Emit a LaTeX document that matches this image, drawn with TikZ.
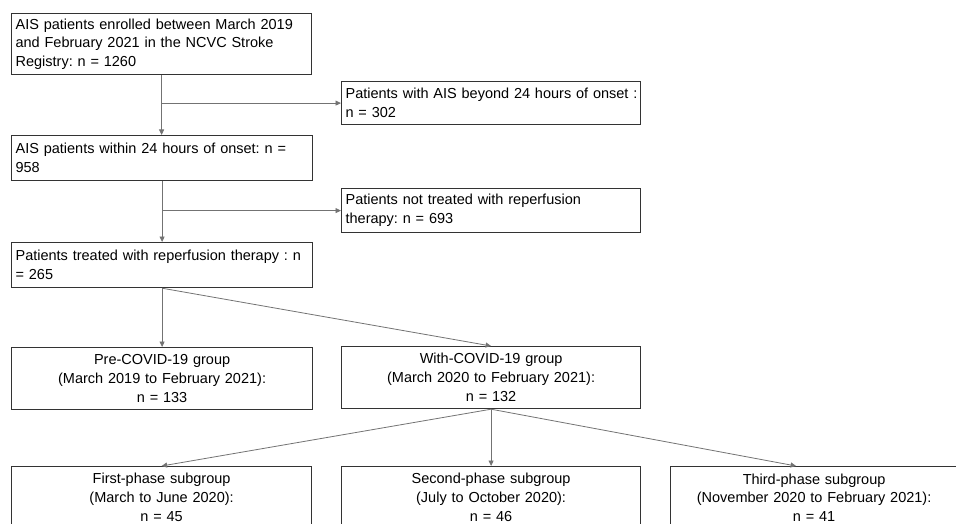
\documentclass[tikz,border=0pt]{standalone}
\usepackage{fontspec}
\setmainfont{Liberation Sans}
\usetikzlibrary{arrows.meta}
\frenchspacing
\newcommand{\fbfont}{\fontsize{14.5pt}{18.8pt}\selectfont}
\tikzset{
  box/.style={draw=black!80, line width=1.2pt, anchor=north west, inner xsep=4pt, inner ysep=0pt, font=\fbfont},
  lbox/.style={box, align=left},
  cbox/.style={box, align=center},
  conn/.style={draw=black!55, line width=0.8pt},
  arr/.style={conn, -{Triangle[width=5pt,length=5.5pt]}}
}
\begin{document}
\begin{tikzpicture}[x=1pt,y=-1pt]
\useasboundingbox (0,0) rectangle (956,524);
\node[lbox, text width=292pt, minimum height=61pt] (b1) at (11,13)
  {\mbox{AIS patients enrolled between March 2019}\\\mbox{and February 2021 in the NCVC Stroke}\\Registry: n = 1260};
\node[lbox, text width=291pt, minimum height=43pt] (b2) at (341,81)
  {\mbox{Patients with AIS beyond 24 hours of onset :}\\n = 302};
\node[lbox, text width=293pt, minimum height=45pt] (b3) at (11,135)
  {\mbox{AIS patients within 24 hours of onset: n =}\\958};
\node[lbox, text width=291pt, minimum height=44pt] (b4) at (341,188)
  {\mbox{Patients not treated with reperfusion}\\therapy: n = 693};
\node[lbox, text width=293pt, minimum height=45pt] (b5) at (11,242)
  {\mbox{Patients treated with reperfusion therapy : n}\\= 265};
\node[cbox, text width=293pt, minimum height=62pt] (pre) at (11,347)
  {Pre-COVID-19 group\\(March 2019 to February 2021):\\n = 133};
\node[cbox, text width=291pt, minimum height=62pt] (with) at (341,346)
  {With-COVID-19 group\\(March 2020 to February 2021):\\n = 132};
\node[cbox, text width=292pt, minimum height=62pt] (p1) at (11,466)
  {First-phase subgroup\\(March to June 2020):\\n = 45};
\node[cbox, text width=291pt, minimum height=62pt] (p2) at (341,466)
  {Second-phase subgroup\\(July to October 2020):\\n = 46};
\node[cbox, text width=279pt, minimum height=62pt] (p3) at (670,466)
  {Third-phase subgroup\\(November 2020 to February 2021):\\n = 41};
% connectors
\draw[arr] (b1.south) -- (b1.south |- b3.north);
\draw[arr] (b1.south |- b2.west) -- (b2.west);
\draw[arr] (b3.south) -- (b3.south |- b5.north);
\draw[arr] (b3.south |- b4.west) -- (b4.west);
\draw[arr] (b5.south) -- (b5.south |- pre.north);
\draw[arr] (b5.south) -- (with.north);
\draw[arr] (with.south) -- (p1.north);
\draw[arr] (with.south) -- (with.south |- p2.north);
\coordinate (p3in) at ([xshift=-18pt]p3.north);
\draw[arr] (with.south) -- (p3in);
\end{tikzpicture}
\end{document}
